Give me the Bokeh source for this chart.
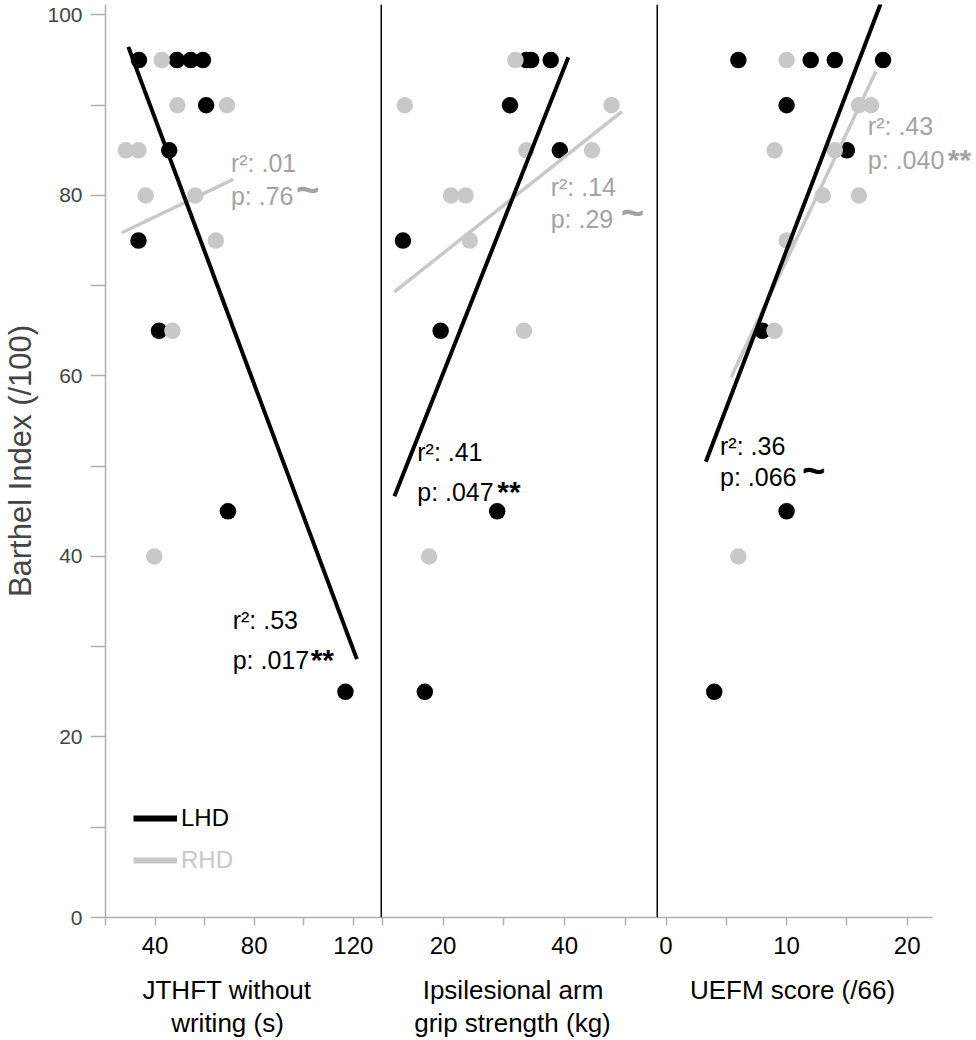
import numpy as np
from bokeh.plotting import figure
from bokeh.layouts import row, column
from bokeh.models import Range1d, FixedTicker, Span, Label, Legend, LegendItem
from bokeh.embed import file_html
from bokeh.resources import INLINE

# ---------------- data ----------------
barthel_ticks = [0, 20, 40, 60, 80, 100]
barthel_minor = [10, 30, 50, 70, 90]
y_title = "Barthel Index (/100)"

# Panel 1: JTHFT without writing (s)
jthft_lhd_x = [33.5, 48.8, 54.4, 59.3, 60.6, 45.7, 33.3, 41.6, 69.4, 116.8]
jthft_lhd_y = [95, 95, 95, 95, 90, 85, 75, 65, 45, 25]
jthft_rhd_x = [42.7, 49.0, 69.0, 28.2, 33.3, 36.2, 56.2, 64.5, 47.0, 39.7]
jthft_rhd_y = [95, 90, 90, 85, 85, 80, 80, 75, 65, 40]

# Panel 2: Ipsilesional arm grip strength (kg)
grip_lhd_x = [33.7, 34.5, 37.7, 31.0, 39.2, 13.4, 19.6, 28.9, 17.0]
grip_lhd_y = [95, 95, 95, 90, 85, 75, 65, 45, 25]
grip_rhd_x = [31.9, 13.7, 47.7, 33.7, 44.5, 21.3, 23.7, 24.4, 33.3, 17.7]
grip_rhd_y = [95, 90, 90, 85, 85, 80, 80, 75, 65, 40]

# Panel 3: UEFM score (/66)
uefm_lhd_x = [6, 12, 14, 18, 10, 15, 8, 10, 4]
uefm_lhd_y = [95, 95, 95, 95, 90, 85, 65, 45, 25]
uefm_rhd_x = [10, 16, 17, 9, 14, 13, 16, 10, 9, 6]
uefm_rhd_y = [95, 90, 90, 85, 85, 80, 80, 75, 65, 40]

# x-axis titles, one entry per line
panel_titles = [["JTHFT without", "writing (s)"],
                ["Ipsilesional arm", "grip strength (kg)"],
                ["UEFM score (/66)"]]
panel_ticks = [[40, 80, 120], [20, 40], [0, 10, 20]]
panel_minor = [[20, 60, 100], [10, 30, 50], [5, 15]]

# x extent of each regression line
lhd_fit_span = [[29.2, 121.4], [12.0, 40.6], [3.3, 17.8]]
rhd_fit_span = [[26.6, 71.5], [12.0, 49.4], [5.4, 17.4]]

# statistics text (r², p, significance mark)
lhd_r2 = [".53", ".41", ".36"]
lhd_p = [".017", ".047", ".066"]
lhd_mark = ["**", "**", "~"]
rhd_r2 = [".01", ".14", ".43"]
rhd_p = [".76", ".29", ".040"]
rhd_mark = ["~", "~", "**"]

series_names = ["LHD", "RHD"]

# ---------------- layout / style ----------------
FONT = "Liberation Sans"
BLACK = "#000000"
GRAY = "#c8c8c8"
GRAY_TXT = "#a3a3a3"
AXIS_GRAY = "#b0b0b0"

# visible axis extent of each panel, and the full frame extent
axis_bounds = [(20.0, 130.95), (9.71, 55.1), (-0.79, 22.09)]
frame_ranges = [(20.0, 130.95), (9.71, 55.1), (-0.79, 25.75)]
widths = [380, 276, 320]
PANEL_H = 960
TITLE_H = 78
# title line centres in the title strip (px from left, px from strip bottom)
title_cx = [[226.5, 227], [512.5, 512], [792]]
title_cy = [49, 16]
# annotation anchors (x, r² baseline y, p baseline y) in data units
lhd_pos = [(71.3, 32.0, 27.5), (15.75, 50.6, 46.1), (4.48, 51.3, 47.8)]
rhd_pos = [(70.6, 82.6, 79.0), (37.7, 79.9, 76.4), (16.74, 86.7, 82.9)]
lhd_mark_dx = [78, 80, 82]
rhd_mark_dx = [65, 70, 80]
TXT_DY = 9

panels = [
    (jthft_lhd_x, jthft_lhd_y, jthft_rhd_x, jthft_rhd_y),
    (grip_lhd_x, grip_lhd_y, grip_rhd_x, grip_rhd_y),
    (uefm_lhd_x, uefm_lhd_y, uefm_rhd_x, uefm_rhd_y),
]

y_range = Range1d(0, 101.16)
figs = []


def add_stat(p, x, yb_r, yb_p, r2, pv, mark, dx, color):
    p.add_layout(Label(x=x, y=yb_r, y_offset=TXT_DY, text="r²: " + r2, text_font=FONT,
                       text_font_size="25px", text_color=color,
                       text_baseline="alphabetic", text_align="left"))
    p.add_layout(Label(x=x, y=yb_p, y_offset=TXT_DY, text="p: " + pv, text_font=FONT,
                       text_font_size="25px", text_color=color,
                       text_baseline="alphabetic", text_align="left"))
    if mark == "~":
        p.add_layout(Label(x=x, y=yb_p, x_offset=dx, y_offset=TXT_DY + 7, text="~",
                           text_font=FONT, text_font_size="40px",
                           text_font_style="bold", text_color=color,
                           text_baseline="alphabetic", text_align="left"))
    else:
        p.add_layout(Label(x=x, y=yb_p, x_offset=dx, y_offset=TXT_DY + 1, text="**",
                           text_font=FONT, text_font_size="30px",
                           text_font_style="bold", text_color=color,
                           text_baseline="alphabetic", text_align="left"))


for i in range(3):
    lx, ly, rx, ry = panels[i]
    kw = dict(width=widths[i], height=PANEL_H,
              x_range=Range1d(*frame_ranges[i]), y_range=y_range,
              output_backend="svg", toolbar_location=None, tools="",
              min_border_top=4, min_border_bottom=PANEL_H - 917,
              min_border_left=105 if i == 0 else 0,
              min_border_right=0)
    if i > 0:
        kw["y_axis_location"] = None
    p = figure(**kw)
    p.grid.visible = False
    p.outline_line_color = None
    p.background_fill_color = "white"
    p.border_fill_color = "white"

    # points
    p.scatter(lx, ly, size=16.5, color=BLACK, line_color=None)
    p.scatter(rx, ry, size=16.5, color=GRAY, line_color=None)

    # regression lines (least squares from the points)
    ms, bs = np.polyfit(np.array(rx, float), np.array(ry, float), 1)
    xs = np.array(rhd_fit_span[i], float)
    p.line(xs, ms * xs + bs, line_color=GRAY, line_width=3.5)
    ml, bl = np.polyfit(np.array(lx, float), np.array(ly, float), 1)
    xl = np.array(lhd_fit_span[i], float)
    p.line(xl, ml * xl + bl, line_color=BLACK, line_width=4)

    # stats text
    add_stat(p, *lhd_pos[i], lhd_r2[i], lhd_p[i], lhd_mark[i], lhd_mark_dx[i], BLACK)
    add_stat(p, *rhd_pos[i], rhd_r2[i], rhd_p[i], rhd_mark[i], rhd_mark_dx[i], GRAY_TXT)

    # x axis
    ax = p.xaxis[0]
    ax.bounds = axis_bounds[i]
    ax.ticker = FixedTicker(ticks=panel_ticks[i], minor_ticks=panel_minor[i])
    ax.axis_line_color = AXIS_GRAY
    ax.axis_line_width = 1.5
    ax.major_tick_line_color = AXIS_GRAY
    ax.minor_tick_line_color = AXIS_GRAY
    ax.major_tick_line_width = 1.5
    ax.minor_tick_line_width = 1.5
    ax.major_tick_out = 8
    ax.major_tick_in = 0
    ax.minor_tick_out = 8
    ax.minor_tick_in = 0
    ax.major_label_text_font = FONT
    ax.major_label_text_font_size = "24px"
    ax.major_label_text_color = BLACK
    ax.major_label_standoff = 11

    if i == 0:
        ay = p.yaxis[0]
        ay.ticker = FixedTicker(ticks=barthel_ticks, minor_ticks=barthel_minor)
        ay.axis_label = y_title
        ay.axis_line_color = AXIS_GRAY
        ay.axis_line_width = 1.5
        ay.major_tick_line_color = AXIS_GRAY
        ay.minor_tick_line_color = AXIS_GRAY
        ay.major_tick_line_width = 1.5
        ay.minor_tick_line_width = 1.5
        ay.major_tick_out = 15
        ay.major_tick_in = 0
        ay.minor_tick_out = 15
        ay.minor_tick_in = 0
        ay.major_label_text_font = FONT
        ay.major_label_text_font_size = "21px"
        ay.major_label_standoff = 8
        ay.axis_label_text_font = FONT
        ay.axis_label_text_font_size = "31px"
        ay.axis_label_text_font_style = "normal"
        ay.axis_label_standoff = 6

        # legend (proxy renderers kept outside the visible ranges)
        r_l = p.line([-1000, -999], [-1000, -999], line_color=BLACK, line_width=6)
        r_r = p.line([-1000, -999], [-1000, -999], line_color=GRAY, line_width=6)
        for rend, name, col, ly0 in ((r_l, series_names[0], BLACK, 84),
                                     (r_r, series_names[1], GRAY, 42)):
            lg = Legend(items=[LegendItem(label=name, renderers=[rend])],
                        location=(28, ly0), glyph_width=44, glyph_height=30,
                        label_height=30, label_standoff=4, padding=0, margin=0,
                        border_line_color=None, background_fill_alpha=0,
                        label_text_font=FONT, label_text_font_size="24px",
                        label_text_color=col)
            p.add_layout(lg)
    else:
        p.add_layout(Span(location=frame_ranges[i][0], dimension="height",
                          line_color=BLACK, line_width=3))
    figs.append(p)

# strip underneath the panels holding the x-axis titles (coordinates = pixels)
strip_w = sum(widths)
t = figure(width=strip_w, height=TITLE_H, x_range=Range1d(0, strip_w),
           y_range=Range1d(0, TITLE_H), output_backend="svg",
           toolbar_location=None, tools="", x_axis_location=None,
           y_axis_location=None, min_border=0)
t.grid.visible = False
t.outline_line_color = None
t.background_fill_color = "white"
t.border_fill_color = "white"
for i in range(3):
    for k, line_text in enumerate(panel_titles[i]):
        t.add_layout(Label(x=title_cx[i][k], y=title_cy[k], text=line_text,
                           text_font=FONT, text_font_size="26px", text_color=BLACK,
                           text_align="center", text_baseline="middle"))

layout = column(row(*figs, spacing=0), t, spacing=0)
open("out.html", "w").write(file_html(layout, INLINE))
